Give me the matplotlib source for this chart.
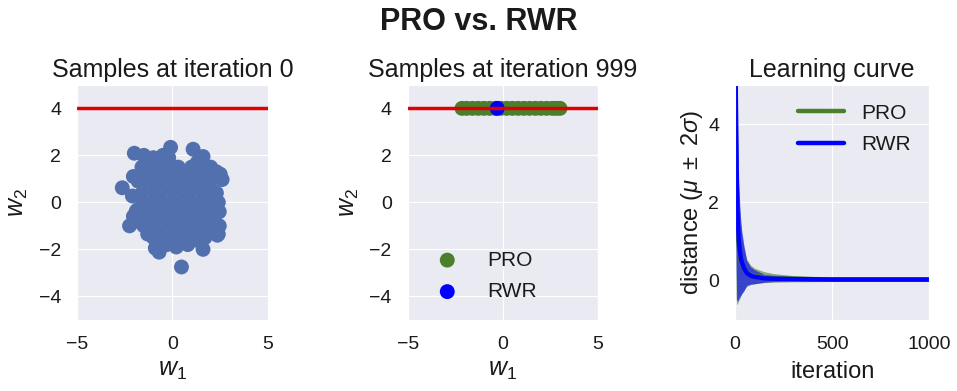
import numpy as np
import matplotlib
matplotlib.use("Agg")
import matplotlib.pyplot as plt
import seaborn as sns

sns.set_style("darkgrid")
plt.rcParams['font.family'] = ['Liberation Sans', 'DejaVu Sans']
plt.rcParams['mathtext.fontset'] = 'custom'
plt.rcParams['mathtext.rm'] = 'Liberation Sans'
plt.rcParams['mathtext.it'] = 'Liberation Sans:italic'
plt.rcParams['mathtext.bf'] = 'Liberation Sans:bold'
plt.rcParams['text.color'] = '#1a1a1a'
plt.rcParams['axes.labelcolor'] = '#1a1a1a'
plt.rcParams['xtick.color'] = '#1a1a1a'
plt.rcParams['ytick.color'] = '#1a1a1a'

# ---------------- data ----------------
# samples at iteration 0 (w1, w2)
init_w1 = [-2.63, -2.25, 0.47, 1.60, 1.08, -0.10, -2.00, -0.70, 2.40, 2.60, 2.40, 1.60, -1.30, -1.90, -2.10,
           -1.50, -1.00, -0.50, 0.30, 1.30, 2.00, 2.30, 2.10, 2.30, 2.00, 2.20, 1.90, 2.45, 1.20, 0.80,
           0.20, -0.30, -0.80, -1.60, -1.80, -1.70, -1.80, -1.60, -1.20, -2.05, -2.05, 2.50, 2.45, 2.35,
           0.60, -0.20, -0.90, 1.70, -1.40,
           -1.5, -1.0, -0.5, 0.0, 0.5, 1.0, 1.5, 2.0,
           -1.5, -1.0, -0.5, 0.0, 0.5, 1.0, 1.5, 2.0,
           -1.5, -1.0, -0.5, 0.0, 0.5, 1.0, 1.5, 2.0,
           -1.5, -1.0, -0.5, 0.0, 0.5, 1.0, 1.5, 2.0,
           -1.5, -1.0, -0.5, 0.0, 0.5, 1.0, 1.5, 2.0,
           -1.5, -1.0, -0.5, 0.0, 0.5, 1.0, 1.5, 2.0,
           -1.0, -0.5, 0.0, 0.5, 1.0, 1.5]
init_w2 = [0.62, -1.00, -2.75, -2.00, 2.26, 2.34, 2.09, -2.12, -1.35, 0.97, 0.00, 1.95, -1.35, -0.37, 0.27,
           2.00, 1.90, 2.00, 1.50, 1.70, 1.50, 1.30, 0.50, 0.40, -0.60, -1.10, -1.30, -1.00, -1.60, -1.80,
           -1.90, -1.80, -1.70, -0.90, -0.30, 0.30, 0.90, 1.50, 1.60, 1.10, -0.60, 1.20, -0.40, -1.40,
           -1.70, 1.90, -1.95, -1.50, 1.80,
           1.5, 1.5, 1.5, 1.5, 1.3, 1.5, 1.5, 1.2,
           1.0, 1.0, 1.0, 1.0, 1.0, 1.0, 1.0, 1.0,
           0.5, 0.5, 0.5, 0.5, 0.5, 0.5, 0.5, 0.5,
           0.0, 0.0, 0.0, 0.0, 0.0, 0.0, 0.0, 0.0,
           -0.5, -0.5, -0.5, -0.5, -0.5, -0.5, -0.5, -0.5,
           -1.0, -1.0, -1.0, -1.0, -1.0, -1.0, -1.0, -1.0,
           -1.5, -1.5, -1.5, -1.5, -1.5, -1.5]

# samples at iteration 999
pro_w1 = [-2.15, -1.9, -1.6, -1.3, -1.0, -0.7, -0.4, -0.1, 0.2, 0.5, 0.8, 1.1, 1.4, 1.7, 2.0, 2.3, 2.6, 2.8, 3.0]
pro_w2 = [4.0] * len(pro_w1)
rwr_w1 = [-0.30]
rwr_w2 = [4.0]

target_w2 = 4.0

# learning curve
iters = [0, 3, 6, 9, 12, 16, 20, 25, 30, 35, 45, 60, 80, 100, 150, 200, 300, 500, 700, 1000]
pro_mean = [8.0, 5.2, 3.4, 2.2, 1.6, 1.15, 0.85, 0.65, 0.50, 0.42, 0.30, 0.20, 0.15, 0.12, 0.09, 0.07, 0.05, 0.03, 0.03, 0.03]
pro_2sd = [1.0, 2.6, 3.8, 2.8, 2.2, 1.70, 1.35, 1.10, 0.90, 0.75, 0.55, 0.35, 0.25, 0.20, 0.14, 0.11, 0.08, 0.05, 0.05, 0.05]
rwr_mean = [8.0, 5.5, 3.8, 2.6, 1.9, 1.35, 1.00, 0.75, 0.58, 0.47, 0.33, 0.20, 0.13, 0.10, 0.06, 0.05, 0.04, 0.03, 0.03, 0.03]
rwr_2sd = [1.0, 2.5, 3.5, 3.1, 2.4, 1.85, 1.45, 1.15, 0.95, 0.80, 0.60, 0.32, 0.22, 0.18, 0.10, 0.07, 0.05, 0.05, 0.05, 0.05]

# ---------------- style ----------------
C_SCAT = '#5170AD'
C_RED = '#e00000'
C_PRO = '#4b7f2b'
C_RWR = '#0000ff'
TICK = 14
TITLE = 18
LAB = 17
LEG = 15

fig = plt.figure(figsize=(9.57, 3.91), dpi=100)
ax1 = fig.add_axes([0.0805, 0.182, 0.1995, 0.601])
ax2 = fig.add_axes([0.426, 0.182, 0.199, 0.601])
ax3 = fig.add_axes([0.768, 0.182, 0.203, 0.601])

S = 115
ax1.scatter(init_w1, init_w2, s=S, color=C_SCAT, edgecolor='none', zorder=2)
ax1.axhline(target_w2, color=C_RED, lw=2.5, zorder=3)
ax1.set_title('Samples at iteration 0', fontsize=TITLE)

ax2.scatter(pro_w1, pro_w2, s=S, color=C_PRO, edgecolor='none', label='PRO', zorder=2)
ax2.scatter(rwr_w1, rwr_w2, s=S, color=C_RWR, edgecolor='none', label='RWR', zorder=2)
ax2.axhline(target_w2, color=C_RED, lw=2.5, zorder=3)
ax2.set_title('Samples at iteration 999', fontsize=TITLE)
ax2.legend(loc='lower left', bbox_to_anchor=(0.0, 0.0), frameon=False, fontsize=LEG,
           handletextpad=0.9, labelspacing=0.6)

for ax in (ax1, ax2):
    ax.set_xlim(-5, 5)
    ax.set_ylim(-5, 5)
    ax.set_xticks([-5, 0, 5])
    ax.set_yticks([-4, -2, 0, 2, 4])
    ax.set_xlabel('$w_1$', fontsize=LAB + 1)
    ax.set_ylabel('$w_2$', fontsize=LAB + 1, labelpad=6)

it = np.array(iters)
for mean, sd, col, lab in ((pro_mean, pro_2sd, C_PRO, 'PRO'), (rwr_mean, rwr_2sd, C_RWR, 'RWR')):
    m = np.array(mean)
    s = np.array(sd)
    ax3.fill_between(it, m - s, m + s, color=col, alpha=0.6, lw=0)
    ax3.plot(it, m, color=col, lw=3.2, label=lab)
ax3.set_xlim(0, 1000)
ax3.set_ylim(-1, 5)
ax3.set_xticks([0, 500, 1000])
ax3.set_yticks([0, 2, 4])
ax3.set_title('Learning curve', fontsize=TITLE)
ax3.set_xlabel('iteration', fontsize=LAB, labelpad=6)
ax3.set_ylabel(r'distance ($\mu\ \pm\ 2\sigma$)', fontsize=LAB, labelpad=2)
ax3.legend(loc='upper right', frameon=False, fontsize=LEG, handlelength=2.2, labelspacing=0.6)

for ax in (ax1, ax2, ax3):
    ax.tick_params(labelsize=TICK, pad=8)

fig.text(0.5, 1 - 22 / 391, 'PRO vs. RWR', ha='center', va='center', fontsize=22, fontweight='bold')

fig.savefig('out.png', dpi=100)
